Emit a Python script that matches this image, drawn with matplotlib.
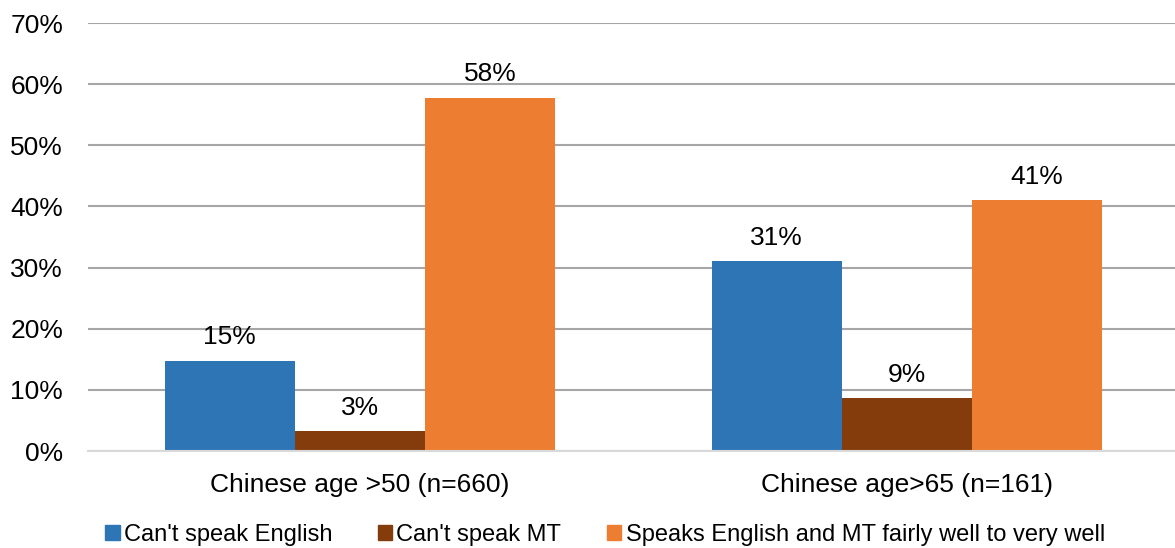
import matplotlib.pyplot as plt
from matplotlib.patches import Patch
import numpy as np

plt.rcParams['font.family'] = ['Liberation Sans', 'DejaVu Sans']

# Data
categories = ["Chinese age >50 (n=660)", "Chinese age>65 (n=161)"]
series = ["Can't speak English", "Can't speak MT",
          "Speaks English and MT fairly well to very well"]
values = [
    [14.8, 31.0],   # Can't speak English
    [3.3, 8.7],     # Can't speak MT
    [57.8, 41.0],   # Speaks English and MT fairly well to very well
]
colors = ["#2E75B6", "#843C0C", "#ED7D31"]
yticks = [0, 10, 20, 30, 40, 50, 60, 70]

fig = plt.figure(figsize=(11.75, 5.48), dpi=100)
ax = fig.add_axes([0.075, 0.177, 0.925, 0.781])

x = np.arange(len(categories))
width = 0.238
for i, (name, vals, c) in enumerate(zip(series, values, colors)):
    pos = x + (i - 1) * width
    ax.bar(pos, vals, width, color=c, label=name, zorder=3)
    for px, v in zip(pos, vals):
        ax.annotate(f"{v:.0f}%", (px, v), xytext=(0, 8), textcoords="offset points",
                    ha="center", va="bottom", fontsize=19, color="#000000")

ax.set_xlim(-0.497, 1.49)
ax.set_ylim(0, 70)
ax.set_yticks(yticks)
ax.set_yticklabels([f"{t}%" for t in yticks], fontsize=19)
ax.set_xticks(x)
ax.set_xticklabels(categories, fontsize=19)
ax.tick_params(axis="y", length=0, pad=18)
ax.tick_params(axis="x", length=0, pad=16)

ax.grid(axis="y", color="#a6a6a6", linewidth=1.5, zorder=0)
for s in ["top", "right", "left"]:
    ax.spines[s].set_visible(False)
ax.spines["bottom"].set_color("#d9d9d9")
ax.spines["bottom"].set_linewidth(1.5)
ax.spines["bottom"].set_zorder(4)

handles = [Patch(color=c) for c in colors]
fig.legend(handles, series, loc="lower center", bbox_to_anchor=(0.515, -0.035), ncol=3,
           frameon=False, fontsize=17, handlelength=0.6, handleheight=0.6,
           handletextpad=0.17, columnspacing=1.95)

plt.savefig("out.png", dpi=100)
